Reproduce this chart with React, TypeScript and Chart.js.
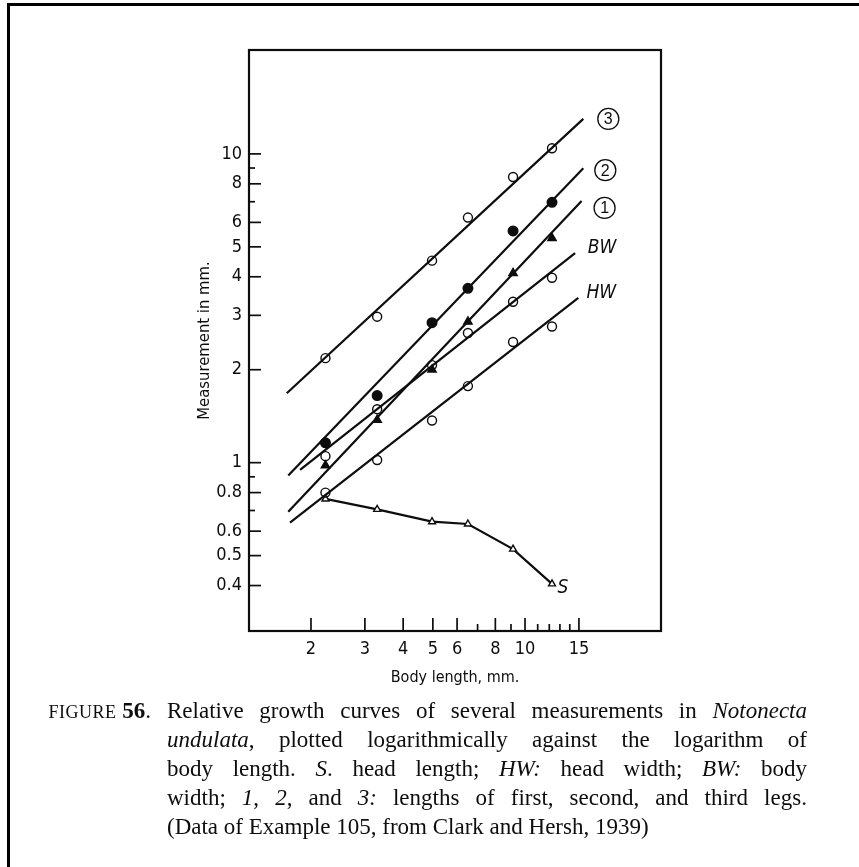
import React, { useEffect, useRef } from 'react';
import { Chart, registerables } from 'chart.js';
Chart.register(...registerables);

// Body length (mm) of successive instars
const bodyLength = [2.23, 3.29, 4.97, 6.51, 9.14, 12.25];
// Measurements (mm)
const leg3 = [2.18, 2.97, 4.51, 6.22, 8.42, 10.43];
const leg2 = [1.16, 1.65, 2.84, 3.67, 5.63, 6.97];
const leg1 = [0.98, 1.375, 2.0, 2.86, 4.11, 5.33];
const bodyWidth = [1.05, 1.49, 2.07, 2.63, 3.32, 3.97];
const headWidth = [0.8, 1.02, 1.37, 1.77, 2.46, 2.76];
const headLength = [0.763, 0.706, 0.644, 0.633, 0.525, 0.405];

// Fitted straight lines (log-log): start / end
const fitLeg3X = [1.667, 15.5];
const fitLeg3Y = [1.678, 12.98];
const fitLeg2X = [1.686, 15.5];
const fitLeg2Y = [0.908, 8.99];
const fitLeg1X = [1.686, 15.3];
const fitLeg1Y = [0.694, 7.04];
const fitBWX = [1.842, 14.57];
const fitBWY = [0.947, 4.77];
const fitHWX = [1.708, 14.93];
const fitHWY = [0.639, 3.42];

// Series labels (legs are shown as circled numbers)
const seriesLabels = ['3', '2', '1', 'BW', 'HW', 'S'];
const circledLabel = [true, true, true, false, false, false];

const xTickLabels = [2, 3, 4, 5, 6, 8, 10, 15];
const xMinorTicks = [7, 9, 11, 12, 13, 14];
const yTickLabels = [0.4, 0.5, 0.6, 0.8, 1, 2, 3, 4, 5, 6, 8, 10];
const yMinorTicks = [0.7, 0.9, 7, 9];

const xRange = [1.255, 27.8];
const yRange = [0.285, 21.7];

const COND = "'Liberation Sans Narrow', 'DejaVu Sans Condensed', 'Roboto', sans-serif";
const INK = '#0d0d0d';

const pts = (xs: number[], ys: number[]) => xs.map((x, i) => ({ x, y: ys[i] }));

const fitSet = (xs: number[], ys: number[]) => ({
  data: pts(xs, ys),
  showLine: true,
  borderColor: INK,
  borderWidth: 2.2,
  pointRadius: 0,
  order: 2,
});

const markSet = (ys: number[], style: string, filled: boolean, r: number) => ({
  data: pts(bodyLength, ys),
  showLine: false,
  pointStyle: style,
  pointRadius: r,
  pointBackgroundColor: filled ? INK : 'rgba(0,0,0,0)',
  pointBorderColor: INK,
  pointBorderWidth: 1.4,
  order: 1,
});

const overlay = {
  id: 'overlay',
  afterDraw(chart: any) {
    const { ctx, chartArea, scales } = chart;
    const { left, right, top, bottom } = chartArea;
    const x = scales.x;
    const y = scales.y;
    ctx.save();
    ctx.strokeStyle = INK;
    ctx.lineWidth = 2.2;
    ctx.strokeRect(left, top, right - left, bottom - top);
    ctx.lineWidth = 1.7;
    const seg = (x1: number, y1: number, x2: number, y2: number) => {
      ctx.beginPath();
      ctx.moveTo(x1, y1);
      ctx.lineTo(x2, y2);
      ctx.stroke();
    };
    yTickLabels.forEach((v) => { const p = y.getPixelForValue(v); seg(left, p, left + 12, p); });
    yMinorTicks.forEach((v) => { const p = y.getPixelForValue(v); seg(left, p, left + 6, p); });
    xTickLabels.forEach((v) => { const p = x.getPixelForValue(v); seg(p, bottom, p, bottom - 13); });
    xMinorTicks.forEach((v) => { const p = x.getPixelForValue(v); seg(p, bottom, p, bottom - 7); });

    // series labels next to the line ends
    const ends = [
      [fitLeg3X[1], fitLeg3Y[1], 25, 0],
      [fitLeg2X[1], fitLeg2Y[1], 22, 2],
      [fitLeg1X[1], fitLeg1Y[1], 23, 7],
      [fitBWX[1], fitBWY[1], 27, -5],
      [fitHWX[1], fitHWY[1], 23, -5],
      [bodyLength[bodyLength.length - 1], headLength[headLength.length - 1], 11, 4],
    ];
    ctx.fillStyle = INK;
    ctx.textAlign = 'center';
    ctx.textBaseline = 'middle';
    ends.forEach((e, i) => {
      const px = x.getPixelForValue(e[0]) + e[2];
      const py = y.getPixelForValue(e[1]) + e[3];
      if (circledLabel[i]) {
        ctx.lineWidth = 1.3;
        ctx.beginPath();
        ctx.arc(px, py, 10.5, 0, Math.PI * 2);
        ctx.stroke();
        ctx.font = "16px 'Liberation Sans', 'DejaVu Sans', sans-serif";
        ctx.fillText(seriesLabels[i], px, py + 1);
      } else {
        ctx.font = `italic 19px ${COND}`;
        ctx.fillText(seriesLabels[i], px, py);
      }
    });
    ctx.restore();
  },
};

export default function App() {
  const ref = useRef<HTMLCanvasElement>(null);
  useEffect(() => {
    const chart = new Chart(ref.current as HTMLCanvasElement, {
      type: 'scatter',
      data: {
        datasets: [
          fitSet(fitLeg3X, fitLeg3Y),
          fitSet(fitLeg2X, fitLeg2Y),
          fitSet(fitLeg1X, fitLeg1Y),
          fitSet(fitBWX, fitBWY),
          fitSet(fitHWX, fitHWY),
          markSet(leg3, 'circle', false, 4.5),
          markSet(leg2, 'circle', true, 4.8),
          markSet(leg1, 'triangle', true, 4.8),
          markSet(bodyWidth, 'circle', false, 4.5),
          markSet(headWidth, 'circle', false, 4.5),
          {
            data: pts(bodyLength, headLength),
            showLine: true,
            borderColor: INK,
            borderWidth: 2.2,
            pointStyle: 'triangle',
            pointRadius: 4,
            pointBackgroundColor: '#fff',
            pointBorderColor: INK,
            pointBorderWidth: 1.4,
            order: 1,
          },
        ] as any,
      },
      options: {
        animation: false,
        responsive: false,
        devicePixelRatio: 1,
        layout: { padding: { left: 189, right: 198, top: 50, bottom: 176 } },
        plugins: { legend: { display: false }, tooltip: { enabled: false } },
        scales: {
          x: {
            type: 'logarithmic',
            min: xRange[0],
            max: xRange[1],
            afterBuildTicks: (s: any) => { s.ticks = xTickLabels.map((v) => ({ value: v })); },
            afterFit: (s: any) => { s.height = 60; },
            ticks: {
              callback: (v: any) => String(v),
              font: { family: COND, size: 18 },
              color: INK,
              padding: 8,
              autoSkip: false,
              maxRotation: 0,
            },
            grid: { display: false, drawTicks: false },
            border: { display: false },
            title: {
              display: true,
              text: 'Body length, mm.',
              font: { family: COND, size: 16 },
              color: INK,
              padding: { top: 0, bottom: 4 },
            },
          },
          y: {
            type: 'logarithmic',
            min: yRange[0],
            max: yRange[1],
            afterBuildTicks: (s: any) => { s.ticks = yTickLabels.map((v) => ({ value: v })); },
            afterFit: (s: any) => { s.width = 60; },
            ticks: {
              callback: (v: any) => String(v),
              font: { family: COND, size: 18 },
              color: INK,
              padding: 7,
              autoSkip: false,
            },
            grid: { display: false, drawTicks: false },
            border: { display: false },
            title: {
              display: true,
              text: 'Measurement in mm.',
              font: { family: COND, size: 16.5 },
              color: INK,
              padding: { top: 6, bottom: 0 },
            },
          },
        },
      } as any,
      plugins: [overlay],
    });
    return () => chart.destroy();
  }, []);

  const serif = "'Liberation Serif', 'DejaVu Serif', serif";
  const capLeft = 167;
  const capWidth = 640;
  const capTop = 696;
  const lh = 29;
  const lineStyle = (i: number, justify: boolean): React.CSSProperties => ({
    position: 'absolute',
    left: capLeft,
    top: capTop + i * lh,
    width: capWidth,
    height: lh,
    lineHeight: `${lh}px`,
    display: 'flex',
    justifyContent: justify ? 'space-between' : 'flex-start',
    gap: justify ? 0 : '0.25em',
    whiteSpace: 'nowrap',
  });

  return (
    <div style={{ position: 'fixed', left: 0, top: 0, width: 859, height: 867, background: '#fff', overflow: 'hidden' }}>
      <div style={{ position: 'absolute', left: 7, top: 3, width: 900, height: 900, borderLeft: '3px solid #000', borderTop: '3px solid #000' }} />
      <canvas ref={ref} width={859} height={867} style={{ position: 'absolute', left: 0, top: 0, width: 859, height: 867 }} />
      <div style={{ fontFamily: serif, fontSize: 23, color: INK }}>
        <div style={{ position: 'absolute', left: 0, width: 151, top: capTop, lineHeight: `${lh}px`, textAlign: 'right', whiteSpace: 'nowrap' }}>
          <span style={{ fontSize: 18, letterSpacing: 0.5 }}>FIGURE</span> <b>56</b>.
        </div>
        <div style={lineStyle(0, true)}>
          <span>Relative</span><span>growth</span><span>curves</span><span>of</span><span>several</span><span>measurements</span><span>in</span><i>Notonecta</i>
        </div>
        <div style={lineStyle(1, true)}>
          <span><i>undulata</i>,</span><span>plotted</span><span>logarithmically</span><span>against</span><span>the</span><span>logarithm</span><span>of</span>
        </div>
        <div style={lineStyle(2, true)}>
          <span>body</span><span>length.</span><span><i>S</i>.</span><span>head</span><span>length;</span><span><i>HW:</i></span><span>head</span><span>width;</span><span><i>BW:</i></span><span>body</span>
        </div>
        <div style={lineStyle(3, true)}>
          <span>width;</span><span><i>1</i>,</span><span><i>2</i>,</span><span>and</span><span><i>3:</i></span><span>lengths</span><span>of</span><span>first,</span><span>second,</span><span>and</span><span>third</span><span>legs.</span>
        </div>
        <div style={lineStyle(4, false)}>
          <span>(Data</span><span>of</span><span>Example</span><span>105,</span><span>from</span><span>Clark</span><span>and</span><span>Hersh,</span><span>1939)</span>
        </div>
      </div>
    </div>
  );
}
